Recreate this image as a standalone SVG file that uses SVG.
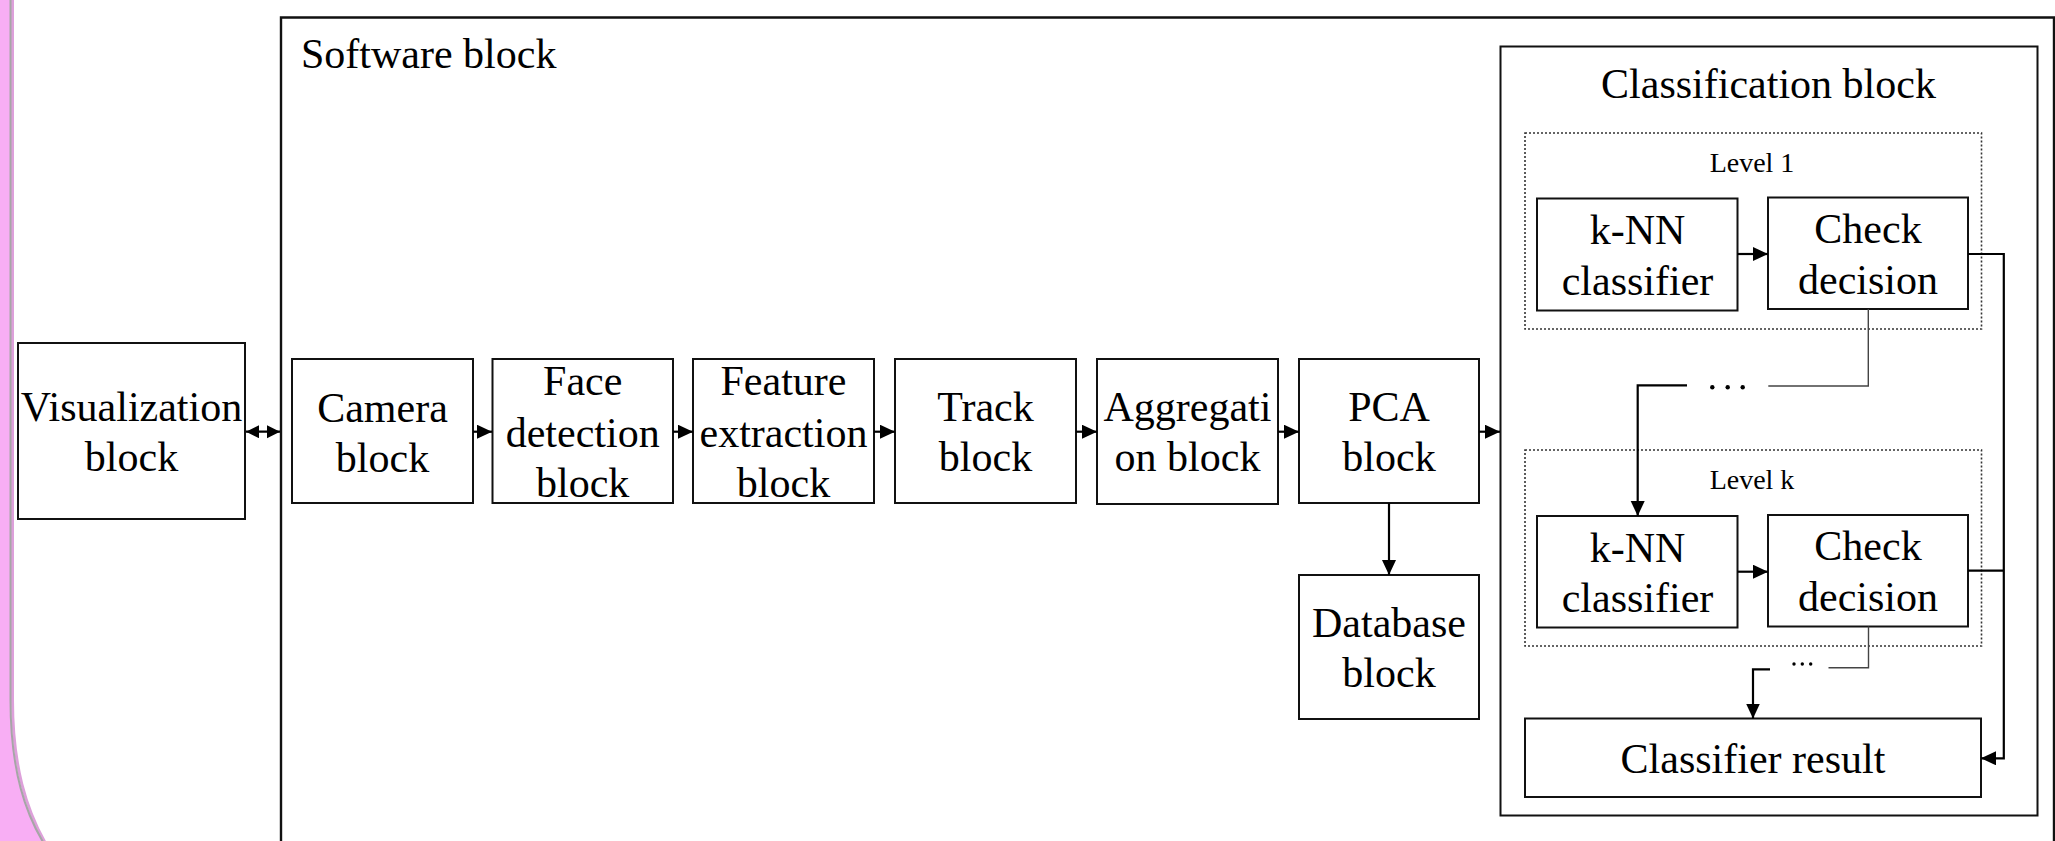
<svg xmlns="http://www.w3.org/2000/svg" width="2055" height="841" viewBox="0 0 2055 841">
<defs>
<style>
.box{fill:#fff;stroke:#111;stroke-width:2}
.dot{fill:none;stroke:#333;stroke-width:1.6;stroke-dasharray:2 2}
.t{font-family:"Liberation Serif","Times New Roman",serif;font-size:42px;fill:#000;text-anchor:middle}
.ts{font-family:"Liberation Serif","Times New Roman",serif;font-size:28px;fill:#000;text-anchor:middle}
.c{fill:none;stroke:#000;stroke-width:2.2}
.thin{fill:none;stroke:#444;stroke-width:1.4}
</style>
<marker id="ah" markerUnits="userSpaceOnUse" markerWidth="16" markerHeight="15" refX="15" refY="7" orient="auto-start-reverse">
<path d="M0,0 L15,7 L0,14 z" fill="#000"/>
</marker>
<marker id="as" markerUnits="userSpaceOnUse" markerWidth="14" markerHeight="14" refX="13" refY="6.5" orient="auto-start-reverse">
<path d="M0,0 L13,6.5 L0,13 z" fill="#000"/>
</marker>
</defs>
<rect x="0" y="0" width="2055" height="841" fill="#fff"/>
<path d="M0,0 H10.5 V700 C10.5,770 25,815 48,850 H0 Z" fill="#F8AEF4"/>
<path d="M12.5,0 V700 C12.5,766 26,810 47,846" fill="none" stroke="#DDA0DA" stroke-width="3"/>
<path d="M10.5,0 V700 C10.5,770 25,815 48,850" fill="none" stroke="#A6A6A6" stroke-width="2"/>

<g id="software-block">
<path d="M281,846 V17.5 H2054 V846" fill="none" stroke="#111" stroke-width="2.4"/>
<text class="t" x="301" y="68" style="text-anchor:start">Software block</text>
</g>

<g id="visualization-block">
<rect class="box" x="18" y="343" width="227" height="176"/>
<text class="t" x="131.5" y="421">Visualization</text>
<text class="t" x="131.5" y="471">block</text>
</g>
<g id="camera-block">
<rect class="box" x="292" y="359" width="181" height="144"/>
<text class="t" x="382.5" y="421.5">Camera</text>
<text class="t" x="382.5" y="471.5">block</text>
</g>
<g id="face-detection-block">
<rect class="box" x="492.5" y="359" width="180.5" height="144"/>
<text class="t" x="582.7" y="395">Face</text>
<text class="t" x="582.7" y="446.5">detection</text>
<text class="t" x="582.7" y="497">block</text>
</g>
<g id="feature-extraction-block">
<rect class="box" x="693" y="359" width="181" height="144"/>
<text class="t" x="783.5" y="395">Feature</text>
<text class="t" x="783.5" y="446.5">extraction</text>
<text class="t" x="783.5" y="497">block</text>
</g>
<g id="track-block">
<rect class="box" x="895" y="359" width="181" height="144"/>
<text class="t" x="985.5" y="421">Track</text>
<text class="t" x="985.5" y="471">block</text>
</g>
<g id="aggregation-block">
<rect class="box" x="1097" y="359" width="181" height="145"/>
<text class="t" x="1187.5" y="421">Aggregati</text>
<text class="t" x="1187.5" y="471">on block</text>
</g>
<g id="pca-block">
<rect class="box" x="1299" y="359" width="180" height="144"/>
<text class="t" x="1389" y="421">PCA</text>
<text class="t" x="1389" y="471">block</text>
</g>
<g id="database-block">
<rect class="box" x="1299" y="575" width="180" height="144"/>
<text class="t" x="1389" y="637">Database</text>
<text class="t" x="1389" y="687">block</text>
</g>

<g id="classification-block">
<rect class="box" x="1500.5" y="46.5" width="537" height="769"/>
<text class="t" x="1768.5" y="98">Classification block</text>
</g>
<g id="level-1">
<rect class="dot" x="1525" y="133" width="456.5" height="196"/>
<text class="ts" x="1752" y="172">Level 1</text>
</g>
<g id="knn-1">
<rect class="box" x="1537" y="198.5" width="200.5" height="112"/>
<text class="t" x="1637.5" y="243.5">k-NN</text>
<text class="t" x="1637.5" y="295">classifier</text>
</g>
<g id="check-1">
<rect class="box" x="1768" y="197.5" width="200" height="111.5"/>
<text class="t" x="1868" y="243">Check</text>
<text class="t" x="1868" y="293.5">decision</text>
</g>
<g id="level-k">
<rect class="dot" x="1525" y="450" width="456.5" height="196"/>
<text class="ts" x="1752" y="488.5">Level k</text>
</g>
<g id="knn-k">
<rect class="box" x="1537" y="516" width="200.5" height="111.5"/>
<text class="t" x="1637.5" y="561.5">k-NN</text>
<text class="t" x="1637.5" y="611.5">classifier</text>
</g>
<g id="check-k">
<rect class="box" x="1768" y="515" width="200" height="111.5"/>
<text class="t" x="1868" y="560">Check</text>
<text class="t" x="1868" y="611">decision</text>
</g>
<g id="classifier-result">
<rect class="box" x="1525" y="718.5" width="456" height="78.5"/>
<text class="t" x="1753" y="772.5">Classifier result</text>
</g>

<g id="connectors">
<line class="c" x1="246" y1="431.7" x2="280" y2="431.7" marker-start="url(#as)" marker-end="url(#as)"/>
<line class="c" x1="473" y1="431.7" x2="492" y2="431.7" marker-end="url(#ah)"/>
<line class="c" x1="673" y1="431.7" x2="693" y2="431.7" marker-end="url(#ah)"/>
<line class="c" x1="874" y1="431.7" x2="895" y2="431.7" marker-end="url(#ah)"/>
<line class="c" x1="1076" y1="431.7" x2="1097" y2="431.7" marker-end="url(#ah)"/>
<line class="c" x1="1278" y1="431.7" x2="1299" y2="431.7" marker-end="url(#ah)"/>
<line class="c" x1="1479" y1="431.7" x2="1500" y2="431.7" marker-end="url(#ah)"/>
<line class="c" x1="1389" y1="503" x2="1389" y2="575" marker-end="url(#ah)"/>
<line class="c" x1="1737.5" y1="254" x2="1768" y2="254" marker-end="url(#ah)"/>
<polyline class="c" points="1968,254 2003.8,254 2003.8,758.3 1981,758.3" marker-end="url(#ah)"/>
<line class="c" x1="1968" y1="570.7" x2="2003.8" y2="570.7"/>
<polyline class="thin" points="1868.3,309 1868.3,386 1768.3,386"/>
<circle cx="1712.3" cy="387.3" r="2.2"/>
<circle cx="1727.7" cy="387.3" r="2.2"/>
<circle cx="1742.7" cy="387.3" r="2.2"/>
<polyline class="c" points="1687,385.3 1637.7,385.3 1637.7,516" marker-end="url(#ah)"/>
<line class="c" x1="1737.5" y1="571.7" x2="1768" y2="571.7" marker-end="url(#ah)"/>
<polyline class="thin" points="1868.5,626.5 1868.5,667.7 1828.5,667.7"/>
<circle cx="1794" cy="664" r="1.7"/>
<circle cx="1802.3" cy="664" r="1.7"/>
<circle cx="1810.7" cy="664" r="1.7"/>
<polyline class="c" points="1770,669.3 1753,669.3 1753,718.5" marker-end="url(#ah)"/>
</g>
</svg>
